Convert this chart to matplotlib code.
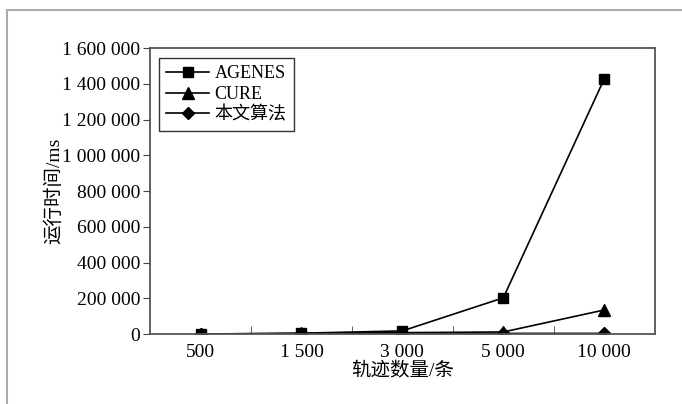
import matplotlib.pyplot as plt
import matplotlib.lines as mlines
import numpy as np

plt.rcParams['font.family'] = ['Liberation Serif', 'Noto Sans CJK SC']
plt.rcParams['font.size'] = 14

# data
categories = ['500', '1 500', '3 000', '5 000', '10 000']
agenes = [500, 5000, 18000, 203000, 1428000]
cure = [300, 4000, 8000, 12000, 135000]
ours = [200, 2000, 3000, 4000, 4000]
yticks = [0, 200000, 400000, 600000, 800000, 1000000, 1200000, 1400000, 1600000]
ylabels = ['0', '200 000', '400 000', '600 000', '800 000',
           '1 000 000', '1 200 000', '1 400 000', '1 600 000']

fig = plt.figure(figsize=(6.82, 4.04), dpi=100)
ax = fig.add_axes([0.22, 0.173, 0.74, 0.708])

x = np.arange(len(categories))
ax.plot(x, agenes, color='black', lw=1.2, marker='s', ms=7, label='AGENES')
ax.plot(x, cure, color='black', lw=1.2, marker='^', ms=8, label='CURE')
ax.plot(x, ours, color='black', lw=1.2, marker='D', ms=6.5, label='本文算法')

ax.set_xlim(-0.5, len(categories) - 0.5)
ax.set_ylim(0, 1600000)
ax.set_yticks(yticks)
ax.set_yticklabels(ylabels)

# category labels centred, tick marks between categories
ax.set_xticks(x)
ax.set_xticklabels(categories)
ax.tick_params(axis='x', length=0, pad=7)
ax.set_xticks(np.arange(0.5, len(categories) - 0.5, 1), minor=True)
ax.tick_params(axis='x', which='minor', direction='in', length=6, color='#444444')
ax.tick_params(axis='y', direction='out', length=5, color='#444444', pad=2)

for s in ax.spines.values():
    s.set_color('#555555')
    s.set_linewidth(1.3)

ax.set_ylabel('运行时间/ms', labelpad=-1)
ax.set_xlabel('轨迹数量/条', labelpad=1)

leg = ax.legend(loc='upper left', frameon=True, fancybox=False, handlelength=2.4,
                borderpad=0.4, labelspacing=0.2, handletextpad=0.3,
                bbox_to_anchor=(0.017, 0.965), borderaxespad=0, fontsize=13)
leg.get_frame().set_edgecolor('black')
leg.get_frame().set_linewidth(1.0)

# outer frame lines
fig.add_artist(mlines.Line2D([7 / 682, 1], [1 - 10 / 404, 1 - 10 / 404],
                             color='#aaaaaa', lw=1.5))
fig.add_artist(mlines.Line2D([7 / 682, 7 / 682], [0, 1 - 10 / 404],
                             color='#aaaaaa', lw=1.5))

fig.savefig('out.png', dpi=100)
